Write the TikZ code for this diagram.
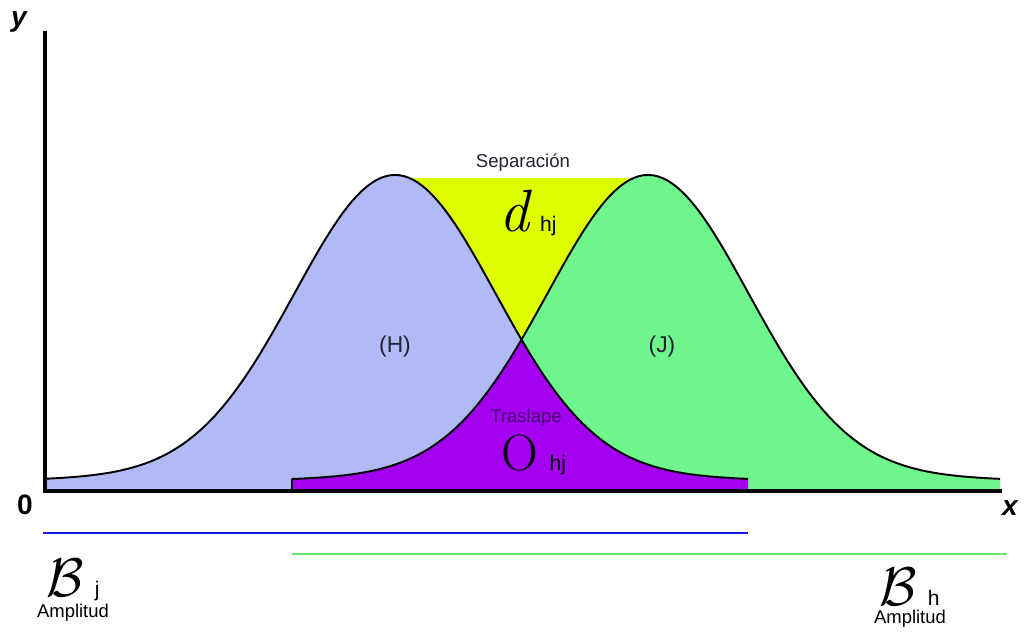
\RequirePackage{fix-cm}
\documentclass[tikz,border=0pt]{standalone}
\usepackage{fontspec}
\setmainfont{Liberation Sans}
\newfontfamily\lmfont{Latin Modern Roman}
\definecolor{hblue}{RGB}{178,186,246}
\definecolor{jgreen}{RGB}{110,246,140}
\definecolor{sepyellow}{RGB}{222,255,0}
\definecolor{overpurple}{RGB}{163,0,240}
\definecolor{lineblue}{RGB}{25,25,225}
\definecolor{linegreen}{RGB}{105,230,105}
\definecolor{darktext}{RGB}{35,35,50}
\definecolor{traslapetext}{RGB}{72,0,112}
\usetikzlibrary{positioning}

\begin{document}
\begin{tikzpicture}[x=0.02cm, y=-0.02cm,
  declare function={bell(\d)=295*exp(-0.5*(\d/100)*(\d/100))+12*exp(-0.5*(\d/200)*(\d/200));
                    gh(\t)=482-bell(\t-395);
                    gj(\t)=482-bell(\t-648);},
  curve/.style={black, line width=1.1pt, line join=round},
  axis/.style={black, line width=2.8pt},
  lbl/.style={inner sep=0pt, text=darktext},
  axlbl/.style={inner sep=0pt, text=black, font=\fontsize{16}{16}\selectfont\bfseries}]
\useasboundingbox (0,0) rectangle (1029,635);
% Separation (curves cover it)
\fill[sepyellow] (400,178) rectangle (645,350);
% Areas under H and J
\fill[hblue] (45,490) -- plot[domain=45:748, samples=150] (\x,{gh(\x)}) -- (748,490) -- cycle;
\fill[jgreen] (292,490) -- plot[domain=292:1000, samples=150] (\x,{gj(\x)}) -- (1000,490) -- cycle;
% Overlap
\fill[overpurple] (292,490) -- plot[domain=292:748, samples=150] (\x,{max(gh(\x),gj(\x))}) -- (748,490) -- cycle;
% Curves
\draw[curve] plot[domain=45:748, samples=150] (\x,{gh(\x)});
\draw[curve] (292,489) -- plot[domain=292:1000, samples=150] (\x,{gj(\x)});
% Axes
\draw[axis] (45,31) -- (45,491) -- (1002,491);
\node[axlbl, font=\fontsize{16}{16}\selectfont\bfseries\itshape] (ylab) at (19,22) {y};
\node[axlbl, font=\fontsize{16}{16}\selectfont\bfseries\itshape] (xlab) at (1010,508) {x};
\node[axlbl] (zero) at (25,505) {0};
% Amplitude bars
\draw[lineblue, line width=1.1pt] (43,533) -- (748,533);
\draw[linegreen, line width=1.3pt] (292,554) -- (1007,554);
% Labels
\node[lbl, font=\fontsize{10.6}{12}\selectfont] (sep) at (523,163) {Separación};
\node[lbl, anchor=base, text=black, font=\lmfont\itshape\fontsize{34}{34}\selectfont] (dsym) at (514,232) {d};
\node[lbl, anchor=base west, text=black, font=\fontsize{12}{12}\selectfont] (dsub) at ([xshift=6pt]dsym.base east) {hj};
\node[lbl, font=\fontsize{13}{13}\selectfont] (hlab) at (395,347) {(H)};
\node[lbl, font=\fontsize{13}{13}\selectfont] (jlab) at (662,347) {(J)};
\node[lbl, text=traslapetext, font=\fontsize{10.5}{12}\selectfont] (tras) at (526,418) {Traslape};
\node[lbl, anchor=base, text=black, font=\lmfont\fontsize{29}{29}\selectfont] (osym) at (520,470) {O};
\node[lbl, anchor=base west, text=black, font=\fontsize{12}{12}\selectfont] (osub) at ([xshift=6pt]osym.base east) {hj};
% Amplitudes
\node[lbl, anchor=base, text=black, font=\fontsize{31}{31}\selectfont] (bj) at (65,596) {$\mathcal{B}$};
\node[lbl, anchor=base west, text=black, font=\fontsize{12}{12}\selectfont] (bjsub) at ([xshift=6pt]bj.base east) {j};
\node[lbl, text=black, font=\fontsize{10.5}{12}\selectfont] (ampj) at (73,613) {Amplitud};
\node[lbl, anchor=base, text=black, font=\fontsize{31}{31}\selectfont] (bh) at (898,605) {$\mathcal{B}$};
\node[lbl, anchor=base west, text=black, font=\fontsize{12}{12}\selectfont] (bhsub) at ([xshift=6pt]bh.base east) {h};
\node[lbl, text=black, font=\fontsize{10.5}{12}\selectfont] (amph) at (910,619) {Amplitud};
\end{tikzpicture}
\end{document}
